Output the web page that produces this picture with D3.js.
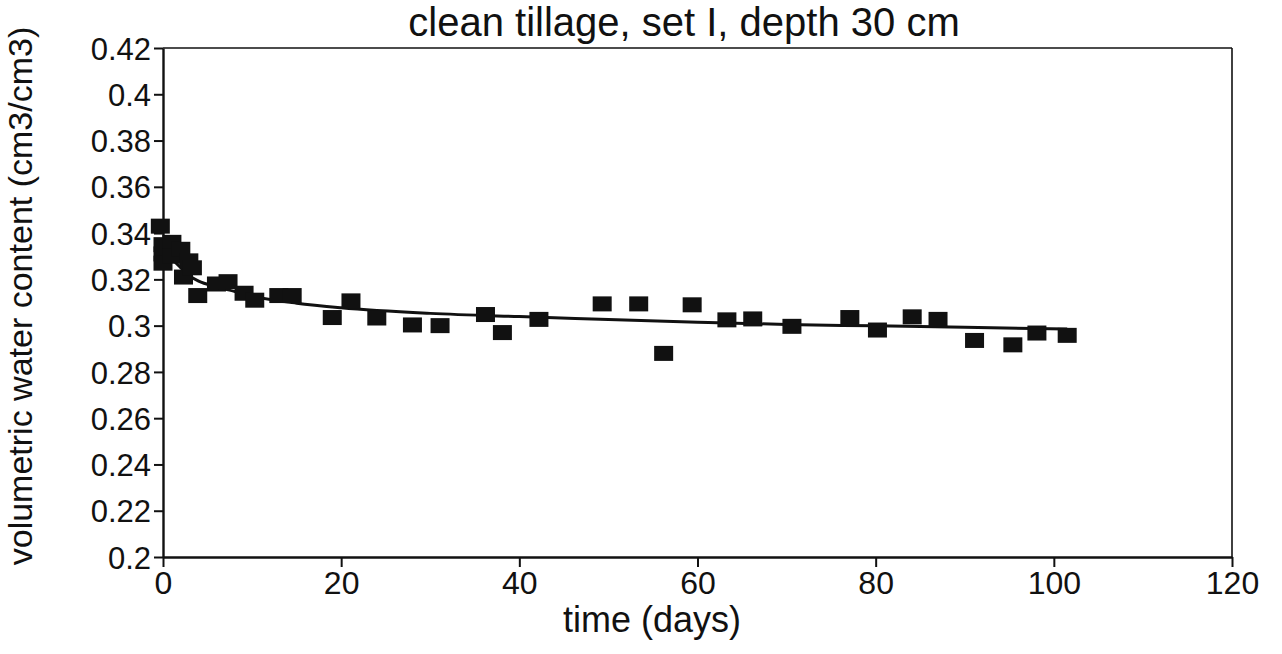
<!DOCTYPE html>
<html><head><meta charset="utf-8">
<script src="https://cdn.jsdelivr.net/npm/d3@7"></script>
<style>body{margin:0;background:#fff}svg{display:block}text{font-family:"Liberation Sans",Arial,sans-serif;fill:#111}</style>
</head><body><svg id="c" width="1282" height="654"></svg>
<script>
const title = "clean tillage, set I, depth 30 cm";
const xLabel = "time (days)";
const yLabel = "volumetric water content (cm3/cm3)";
const xTicks = [0, 20, 40, 60, 80, 100, 120];
const yTicks = [0.2, 0.22, 0.24, 0.26, 0.28, 0.3, 0.32, 0.34, 0.36, 0.38, 0.4, 0.42];
const yTickLabels = ["0.2","0.22","0.24","0.26","0.28","0.3","0.32","0.34","0.36","0.38","0.4","0.42"];
const obsDays = [-0.3, 0, 0, 0, 1, 1, 2, 2.3, 2.9, 3.3, 3.9, 6, 7.3, 9.1, 10.3, 13, 14.5, 19, 21.1, 24, 28, 31.1, 36.2, 38.1, 42.2, 49.3, 53.4, 56.2, 59.4, 63.3, 66.2, 70.6, 77.1, 80.2, 84.1, 87.0, 91.1, 95.4, 98.1, 101.5];
const obsValues = [0.343, 0.335, 0.331, 0.327, 0.336, 0.330, 0.333, 0.321, 0.328, 0.325, 0.313, 0.318, 0.319, 0.314, 0.311, 0.313, 0.313, 0.3035, 0.3107, 0.3033, 0.3003, 0.300, 0.3048, 0.297, 0.3027, 0.3094, 0.3094, 0.288, 0.309, 0.3025, 0.3029, 0.2997, 0.3035, 0.2981, 0.3038, 0.3027, 0.2936, 0.2917, 0.2968, 0.2958];
const fitDays = [0, 1, 2, 3, 4, 6, 8, 10, 15, 20, 30, 40, 50, 60, 70, 80, 90, 101.5];
const fitValues = [0.334, 0.329, 0.325, 0.3215, 0.3192, 0.3168, 0.3148, 0.3128, 0.3097, 0.3077, 0.3053, 0.3039, 0.3027, 0.3015, 0.3005, 0.2999, 0.2993, 0.2985];

const svg = d3.select("#c");
const L = 163, R = 1232, T = 48, B = 557;
const x = d3.scaleLinear().domain([0, 120]).range([L, R]);
const y = d3.scaleLinear().domain([0.2, 0.42]).range([B, T]);

// frame top/right
svg.append("line").attr("x1", L).attr("x2", R).attr("y1", T).attr("y2", T).attr("stroke", "#111").attr("stroke-width", 1.6);
svg.append("line").attr("x1", R).attr("x2", R).attr("y1", T).attr("y2", B).attr("stroke", "#111").attr("stroke-width", 1.6);

const xAxis = svg.append("g").attr("transform", `translate(0,${B})`)
  .call(d3.axisBottom(x).tickValues(xTicks).tickSize(10).tickSizeOuter(0).tickPadding(4).tickFormat(d3.format("d")));
const yAxis = svg.append("g").attr("transform", `translate(${L},0)`)
  .call(d3.axisLeft(y).tickValues(yTicks).tickSize(9).tickSizeOuter(0).tickPadding(3).tickFormat((d, i) => yTickLabels[i]));
[xAxis, yAxis].forEach(g => {
  g.select(".domain").attr("stroke", "#111").attr("stroke-width", 2.4);
  g.selectAll(".tick line").attr("stroke", "#111").attr("stroke-width", 2);
  g.selectAll(".tick text").attr("fill", "#111");
});
xAxis.selectAll(".tick text").style("font-size", "32px");
yAxis.selectAll(".tick text").style("font-size", "31px").attr("dy", "0.36em");

// fit line
svg.append("path").datum(fitDays.map((d, i) => [d, fitValues[i]]))
  .attr("fill", "none").attr("stroke", "#111").attr("stroke-width", 3)
  .attr("d", d3.line().x(d => x(d[0])).y(d => y(d[1])).curve(d3.curveMonotoneX));

// markers
const mw = 19, mh = 15;
svg.append("g").selectAll("rect").data(obsDays.map((d, i) => [d, obsValues[i]])).join("rect")
  .attr("x", d => x(d[0]) - mw / 2).attr("y", d => y(d[1]) - mh / 2)
  .attr("width", mw).attr("height", mh).attr("fill", "#111");

// titles
svg.append("text").attr("x", 684).attr("y", 36).attr("text-anchor", "middle").style("font-size", "40px").text(title);
svg.append("text").attr("x", 652).attr("y", 632).attr("text-anchor", "middle").style("font-size", "36px").text(xLabel);
svg.append("text").attr("transform", "translate(32,296) rotate(-90)").attr("text-anchor", "middle").style("font-size", "34px").text(yLabel);
</script></body></html>
